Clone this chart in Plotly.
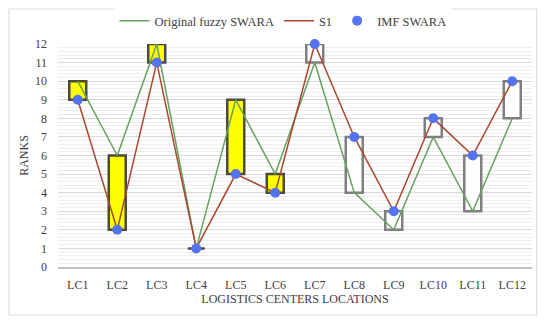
import plotly.graph_objects as go

categories = ["LC1", "LC2", "LC3", "LC4", "LC5", "LC6", "LC7", "LC8", "LC9", "LC10", "LC11", "LC12"]
original = [10, 6, 12, 1, 9, 5, 11, 4, 2, 7, 3, 8]
s1 = [9, 2, 11, 1, 5, 4, 12, 7, 3, 8, 6, 10]
imf = [9, 2, 11, 1, 5, 4, 12, 7, 3, 8, 6, 10]
y_ticks = list(range(0, 13))

FONT = "Liberation Serif"
GREEN = "#68a060"
RED = "#a9472c"
BLUE = "#5573ee"
TXT = "#404040"

down_x, down_base, down_h = [], [], []
up_x, up_base, up_h = [], [], []
for c, o, s in zip(categories, original, s1):
    lo, hi = min(o, s), max(o, s)
    if o >= s:
        down_x.append(c); down_base.append(lo); down_h.append(hi - lo)
    else:
        up_x.append(c); up_base.append(lo); up_h.append(hi - lo)

fig = go.Figure()
fig.add_trace(go.Bar(x=down_x, y=down_h, base=down_base, width=0.43, cliponaxis=False,
                     marker=dict(color="#ffff00", line=dict(color="#4a4a40", width=2.5)),
                     showlegend=False, hoverinfo="skip"))
fig.add_trace(go.Bar(x=up_x, y=up_h, base=up_base, width=0.43, cliponaxis=False,
                     marker=dict(color="#ffffff", line=dict(color="#7f7f7f", width=2.5)),
                     showlegend=False, hoverinfo="skip"))
fig.add_trace(go.Scatter(x=categories, y=original, mode="lines", name="Original fuzzy SWARA",
                         line=dict(color=GREEN, width=1.5), cliponaxis=False))
fig.add_trace(go.Scatter(x=categories, y=s1, mode="lines", name="S1",
                         line=dict(color=RED, width=1.5), cliponaxis=False))
fig.add_trace(go.Scatter(x=categories, y=imf, mode="markers", name="IMF SWARA",
                         marker=dict(color=BLUE, size=10), cliponaxis=False))

fig.update_layout(
    width=550, height=324,
    margin=dict(l=50, r=26, t=36, b=65, autoexpand=False),
    paper_bgcolor="white", plot_bgcolor="white",
    barmode="overlay",
    font=dict(family=FONT, size=12, color=TXT),
    legend=dict(orientation="h", x=0.5, xanchor="center", xref="container",
                y=1 - 13 / 324, yanchor="middle", yref="container",
                font=dict(family=FONT, size=12.5, color=TXT), itemwidth=30,
                traceorder="normal"),
    shapes=[dict(type="rect", xref="paper", yref="paper",
                 x0=-49 / 474, x1=1.01, y0=-48 / 223, y1=1 + 35 / 223,
                 line=dict(color="#d9d9d9", width=1), layer="below")],
)
fig.update_xaxes(
    categoryorder="array", categoryarray=categories, automargin=False,
    showline=True, linecolor="#bfbfbf", linewidth=1.5, ticks="",
    tickfont=dict(family=FONT, size=12, color=TXT), ticklabelstandoff=6,
    title=dict(text="LOGISTICS CENTERS LOCATIONS", font=dict(family=FONT, size=12, color=TXT), standoff=2),
    range=[-0.5, 11.5],
)
fig.update_yaxes(
    range=[0, 12], tickvals=y_ticks, showgrid=True, gridcolor="#d9d9d9", gridwidth=1,
    minor=dict(dtick=0.2, showgrid=True, gridcolor="#eeeeee", gridwidth=1),
    zeroline=False, ticks="", automargin=False, ticklabelstandoff=10,
    tickfont=dict(family=FONT, size=12, color=TXT),
    title=dict(text="RANKS", font=dict(family=FONT, size=12, color=TXT), standoff=3),
)

fig.write_html("out.html")
